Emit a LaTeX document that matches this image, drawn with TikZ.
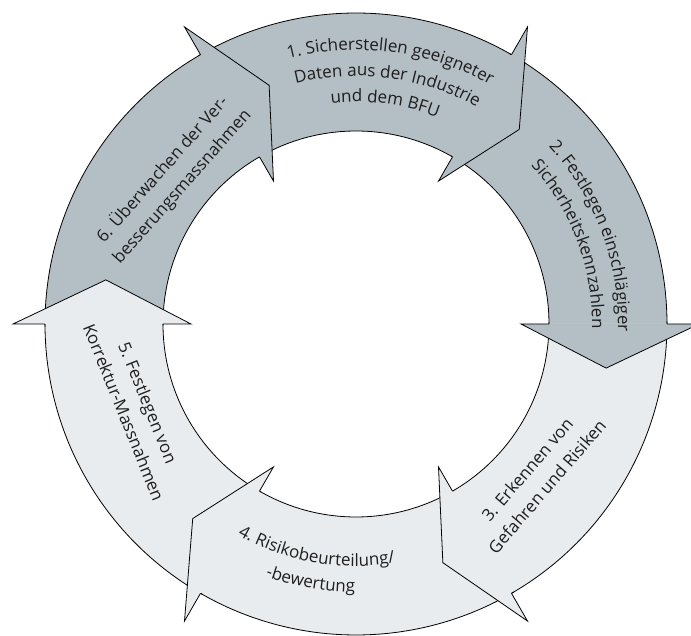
\documentclass[tikz,border=0pt]{standalone}
\usepackage{fontspec}
\setmainfont{Open Sans}
\usetikzlibrary{decorations.text}
\definecolor{segdark}{HTML}{B4BEC5}
\definecolor{seglight}{HTML}{E9ECEF}
\definecolor{txt}{HTML}{1E1E1E}
\newcommand\lbl{\fontsize{17}{26}\selectfont\color{txt}}
\tikzset{
  outline/.style={draw=black, line width=0.8pt, line join=miter},
  steplabel/.style={font=\lbl, text=txt, align=center, inner sep=0pt},
  curvetext/.style={decorate, decoration={text along path, text align=center, text={|\lbl|#1}}}
}
\begin{document}
\begin{tikzpicture}[x=1pt,y=1pt]
\useasboundingbox (-356,-312) rectangle (335,324);
\def\Ro{311}\def\Ri{193}\def\Bo{343}\def\Bi{165}\def\Tp{254}
% ring bodies (head angle / colour)
\foreach \h/\c in {60/segdark, 0/segdark, -60/seglight, -120/seglight, -180/seglight, 120/segdark}{
  \fill[\c] (\h-0.5:\Ro) arc[start angle=\h-0.5, end angle=\h+60, radius=\Ro]
        -- (\h+60:\Ri) arc[start angle=\h+60, end angle=\h-0.5, radius=\Ri] -- cycle;
  \draw[outline] (\h:\Ro) arc[start angle=\h, end angle=\h+60.5, radius=\Ro];
  \draw[outline] (\h:\Ri) arc[start angle=\h, end angle=\h+60.5, radius=\Ri];
}
% arrow heads
\foreach \h/\c in {60/segdark, 0/segdark, -60/seglight, -120/seglight, -180/seglight, 120/segdark}{
  \fill[\c] (\h:\Bo) -- (\h-10:\Tp) -- (\h:\Bi) -- cycle;
  \draw[outline] (\h:\Ro) -- (\h:\Bo) -- (\h-10:\Tp) -- (\h:\Bi) -- (\h:\Ri);
}
% 1 (curved, clockwise)
\path[curvetext={1. Sicherstellen geeigneter}] (142.5:274) arc[start angle=142.5, end angle=22.5, radius=274];
\path[curvetext={Daten aus der Industrie}] (142.5:248) arc[start angle=142.5, end angle=22.5, radius=248];
\path[curvetext={und dem BFU}] (142.5:222) arc[start angle=142.5, end angle=22.5, radius=222];
% 2 (curved, clockwise)
\path[curvetext={2. Festlegen einschlägiger}] (80.5:262) arc[start angle=80.5, end angle=-39.5, radius=262];
\path[curvetext={Sicherheitskennzahlen}] (80.5:236) arc[start angle=80.5, end angle=-39.5, radius=236];
% 4 (curved, counter-clockwise)
\path[curvetext={4. Risikobeurteilung/}] (-160:242) arc[start angle=-160, end angle=-40, radius=242];
\path[curvetext={-bewertung}] (-160:268) arc[start angle=-160, end angle=-40, radius=268];
% straight labels
\node[steplabel, rotate=49.3] (s3) at (181,-154) {3. Erkennen von\\Gefahren und Risiken};
\node[steplabel, rotate=-68] (s5) at (-220,-83.5) {5. Festlegen von\\Korrektur-Massnahmen};
\node[steplabel, rotate=48.5] (s6) at (-184,146) {6. Überwachen der Ver-\\besserungsmassnahmen};
\end{tikzpicture}
\end{document}
